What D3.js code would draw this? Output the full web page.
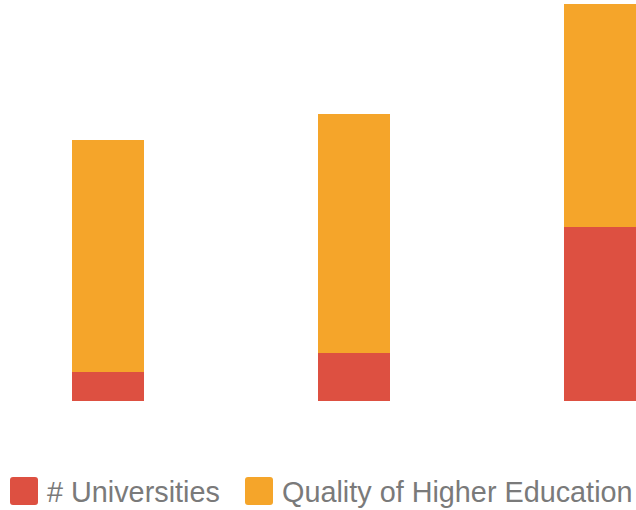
<!DOCTYPE html>
<html>
<head>
<meta charset="utf-8">
<script src="https://cdn.jsdelivr.net/npm/d3@7"></script>
<style>
  body { margin: 0; background: #fff; }
  svg { display: block; }
  .legend text { font-family: "Liberation Sans", Arial, sans-serif; font-size: 28.8px; fill: #7a7a7a; }
</style>
</head>
<body>
<div id="chart"></div>
<script>
// categories (no labels shown in the picture)
const categories = ["A", "B", "C"];
// series values
const universities = [29, 48, 174];
const quality = [232, 239, 223];
const seriesNames = ["# Universities", "Quality of Higher Education"];
const colors = ["#dd5041", "#f5a52a"];

const width = 636;
const height = 510;
const marginTop = 4;
const baseline = 401;

const data = categories.map((c, i) => ({
  category: c,
  universities: universities[i],
  quality: quality[i],
}));

const stack = d3.stack().keys(["universities", "quality"]);
const series = stack(data);

const xScale = d3
  .scaleBand(categories, [72, width])
  .paddingInner(0.7073)
  .paddingOuter(0);

const yScale = d3.scaleLinear(
  [0, d3.max(series[series.length - 1], (d) => d[1])],
  [baseline, marginTop]
);

const svg = d3
  .select("#chart")
  .append("svg")
  .attr("width", width)
  .attr("height", height)
  .attr("viewBox", [0, 0, width, height]);

// draw the stacked bars
svg
  .append("g")
  .selectAll("g")
  .data(series)
  .join("g")
  .attr("fill", (d, i) => colors[i])
  .selectAll("rect")
  .data((d) => d)
  .join("rect")
  .attr("x", (d) => xScale(d.data.category))
  .attr("y", (d) => yScale(d[1]))
  .attr("height", (d) => yScale(d[0]) - yScale(d[1]))
  .attr("width", xScale.bandwidth());

// legend
const legend = svg.append("g").attr("class", "legend");
const legendX = [10, 245];
const items = legend
  .selectAll("g")
  .data(seriesNames)
  .join("g")
  .attr("transform", (d, i) => `translate(${legendX[i]},477)`);

items
  .append("rect")
  .attr("width", 28)
  .attr("height", 28)
  .attr("rx", 3)
  .attr("fill", (d, i) => colors[i]);

items
  .append("text")
  .attr("x", 37)
  .attr("y", 25)
  .text((d) => d);
</script>
</body>
</html>
